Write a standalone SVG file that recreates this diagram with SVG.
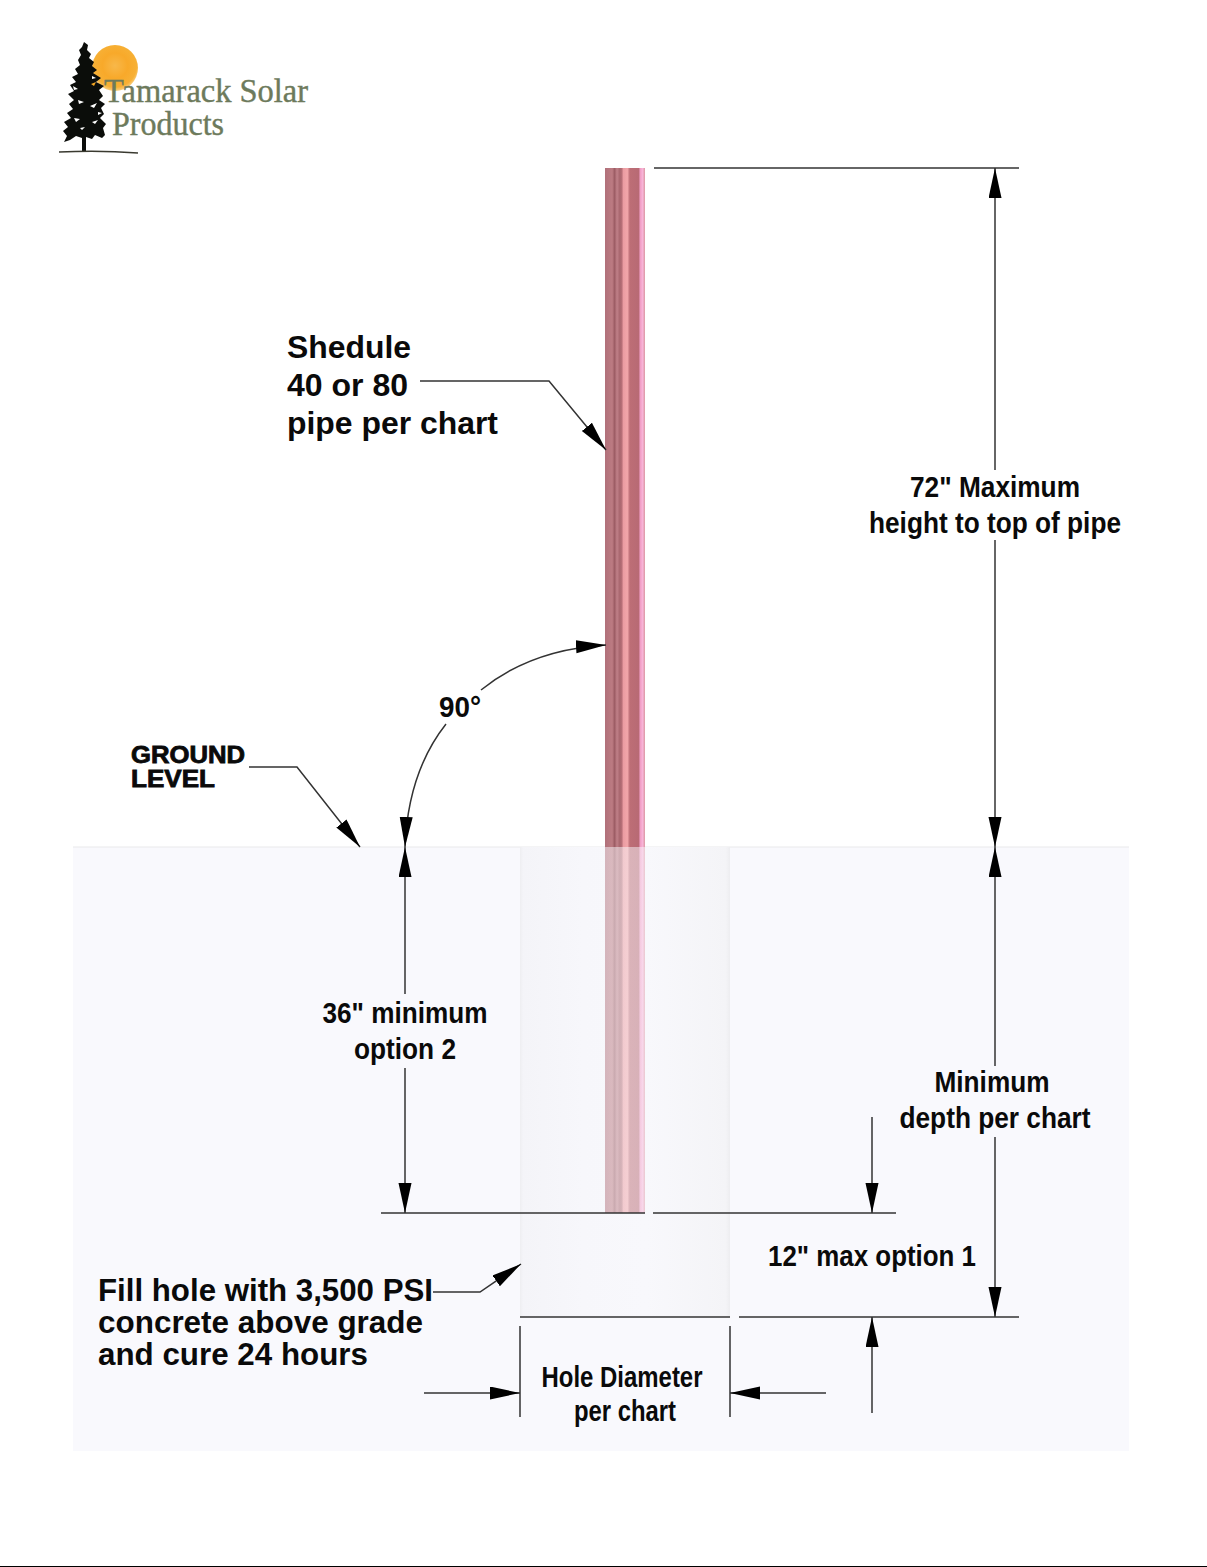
<svg xmlns="http://www.w3.org/2000/svg" width="1207" height="1567" viewBox="0 0 1207 1567">
<style>
.l{fill:none;stroke:#333;stroke-width:1.5}
.t{font-family:"Liberation Sans",Arial,sans-serif;font-weight:700;fill:#0a0a0a}
.d{font-size:29px;text-anchor:middle}
.n{font-size:31px}
.lg{font-family:"Liberation Serif","Times New Roman",serif;font-size:33px;fill:#6d7a5c;stroke:#6d7a5c;stroke-width:.4}
.fleck{fill:#fff}
</style>
<defs>
<marker id="a" markerUnits="userSpaceOnUse" markerWidth="32" markerHeight="14" refX="30" refY="6.5" orient="auto-start-reverse" viewBox="0 0 32 14"><path d="M0 0L30 6.5L0 13Z" fill="#000"/></marker>
<linearGradient id="pipe" x1="0" x2="1" y1="0" y2="0">
<stop offset="0" stop-color="#b0707a"/><stop offset=".18" stop-color="#bc7b82"/><stop offset=".24" stop-color="#9c5c64"/><stop offset=".3" stop-color="#c08088"/><stop offset=".37" stop-color="#a8666e"/><stop offset=".42" stop-color="#b87078"/><stop offset=".46" stop-color="#eb9ca2"/><stop offset=".56" stop-color="#f2a6aa"/><stop offset=".62" stop-color="#bd6e76"/><stop offset=".84" stop-color="#b86a74"/><stop offset=".88" stop-color="#f09cc4"/><stop offset=".94" stop-color="#f8b4d8"/><stop offset="1" stop-color="#dc98a4"/>
</linearGradient>
<linearGradient id="hole" x1="0" x2="1" y1="0" y2="0">
<stop offset="0" stop-color="#eeeef1"/><stop offset=".015" stop-color="#f4f4f8"/><stop offset=".3" stop-color="#f7f7fb"/><stop offset=".6" stop-color="#f8f8fc"/><stop offset=".98" stop-color="#f4f4f7"/><stop offset="1" stop-color="#ededf0"/>
</linearGradient>
<radialGradient id="sun" cx=".5" cy=".45" r=".55"><stop offset="0" stop-color="#f8b84a"/><stop offset=".5" stop-color="#f8a92a"/><stop offset=".85" stop-color="#f7b035"/><stop offset="1" stop-color="#f8d084"/></radialGradient>
</defs>
<rect width="1207" height="1567" fill="#fff"/>
<g id="ground">
<rect x="73" y="847" width="1056" height="604" fill="#f9f9fd"/>
<path d="M73 847H1129" stroke="#e9e9eb" stroke-width="1.2"/>
<rect x="520" y="847" width="210" height="470" fill="url(#hole)"/>
</g>
<g id="pipe-node">
<rect x="605" y="168" width="40" height="679" fill="url(#pipe)"/>
<rect x="605" y="847" width="40" height="366" fill="url(#pipe)" opacity=".5"/>
</g>
<g id="logo">
<circle cx="115" cy="68" r="23" fill="url(#sun)"/>
<path d="M84 42L88 45L87 50L91 54L89 58L94 62L92 66L97 70L93 73L101 78L96 82L104 86L99 90L103 96L99 100L105 104L101 108L104 114L100 118L106 124L103 128L105 135L102 138L95 135L92 139L86 137L86 151L82 151L82 138L76 136L70 140L64 142L67 136L63 131L68 127L64 122L71 118L67 113L73 109L69 104L74 100L68 94L74 91L70 85L76 82L72 77L78 74L75 69L80 65L78 60L81 55L79 50L82 47Z" fill="#0b0d0a"/>
<path class="fleck" d="M73 86l5 3-4 1zM78 100l6 2-5 2zM90 106l7-3-3 5zM74 118l6 1-4 3zM92 122l6-2-3 4zM80 128l5-1-3 3zM92 76l4 2-4 1zM98 112l4 1-4 2z"/>
<path d="M91 84l5-2-2 4z" fill="#f5a623"/>
<path d="M59 152Q100 150 138 153" fill="none" stroke="#3a3a30" stroke-width="1.4"/>
<text class="lg" x="104" y="102" textLength="204" lengthAdjust="spacingAndGlyphs">Tamarack Solar</text>
<text class="lg" x="112" y="135" textLength="112" lengthAdjust="spacingAndGlyphs">Products</text>
</g>
<g id="connectors">
<path class="l" d="M654 168H1019"/>
<path class="l" d="M995 168V470" marker-start="url(#a)"/>
<path class="l" d="M995 540V847" marker-end="url(#a)"/>
<path class="l" d="M995 847V1066" marker-start="url(#a)"/>
<path class="l" d="M995 1137V1317" marker-end="url(#a)"/>
<path class="l" d="M739 1317H1019"/>
<path class="l" d="M520 1317H730"/>
<path class="l" d="M381 1213H645"/>
<path class="l" d="M653 1213H896"/>
<path class="l" d="M872 1117V1213" marker-end="url(#a)"/>
<path class="l" d="M872 1413V1317" marker-end="url(#a)"/>
<path class="l" d="M405 847V994" marker-start="url(#a)"/>
<path class="l" d="M405 1068V1213" marker-end="url(#a)"/>
<path class="l" d="M420 381H549L606 450" marker-end="url(#a)"/>
<path class="l" d="M249 767H297L360 847" marker-end="url(#a)"/>
<path class="l" d="M481 690C513 664 556 648 606 645" marker-end="url(#a)"/>
<path class="l" d="M446 724C420 757 407 797 405 847" marker-end="url(#a)"/>
<path class="l" d="M433 1292H480L521 1264" marker-end="url(#a)"/>
<path class="l" d="M520 1326V1417M730 1326V1417"/>
<path class="l" d="M424 1393H520" marker-end="url(#a)"/>
<path class="l" d="M826 1393H730" marker-end="url(#a)"/>
</g>
<g id="label-schedule" class="t n">
<text x="287" y="358" textLength="124" lengthAdjust="spacingAndGlyphs">Shedule</text>
<text x="287" y="396" textLength="121" lengthAdjust="spacingAndGlyphs">40 or 80</text>
<text x="287" y="434" textLength="211" lengthAdjust="spacingAndGlyphs">pipe per chart</text>
</g>
<g id="label-height" class="t d">
<text x="995" y="497" textLength="170" lengthAdjust="spacingAndGlyphs">72" Maximum</text>
<text x="995" y="533" textLength="252" lengthAdjust="spacingAndGlyphs">height to top of pipe</text>
</g>
<g id="label-90" class="t d"><text x="460" y="717" textLength="42" lengthAdjust="spacingAndGlyphs">90°</text></g>
<g id="label-ground" class="t" stroke="#0a0a0a" stroke-width=".8">
<text x="131" y="763" font-size="23" textLength="114" lengthAdjust="spacingAndGlyphs">GROUND</text>
<text x="131" y="787" font-size="23" textLength="84" lengthAdjust="spacingAndGlyphs">LEVEL</text>
</g>
<g id="label-36" class="t d">
<text x="405" y="1023" textLength="165" lengthAdjust="spacingAndGlyphs">36" minimum</text>
<text x="405" y="1059" textLength="102" lengthAdjust="spacingAndGlyphs">option 2</text>
</g>
<g id="label-depth" class="t d">
<text x="992" y="1092" textLength="115" lengthAdjust="spacingAndGlyphs">Minimum</text>
<text x="995" y="1128" textLength="191" lengthAdjust="spacingAndGlyphs">depth per chart</text>
</g>
<g id="label-12" class="t d"><text x="872" y="1266" textLength="208" lengthAdjust="spacingAndGlyphs">12" max option 1</text></g>
<g id="label-fill" class="t n">
<text x="98" y="1301" textLength="335" lengthAdjust="spacingAndGlyphs">Fill hole with 3,500 PSI</text>
<text x="98" y="1333" textLength="325" lengthAdjust="spacingAndGlyphs">concrete above grade</text>
<text x="98" y="1365" textLength="270" lengthAdjust="spacingAndGlyphs">and cure 24 hours</text>
</g>
<g id="label-hole" class="t d">
<text x="622" y="1387" textLength="161" lengthAdjust="spacingAndGlyphs">Hole Diameter</text>
<text x="625" y="1421" textLength="102" lengthAdjust="spacingAndGlyphs">per chart</text>
</g>
<rect id="page-edge" x="0" y="1566" width="1207" height="1.5" fill="#000"/>
</svg>
